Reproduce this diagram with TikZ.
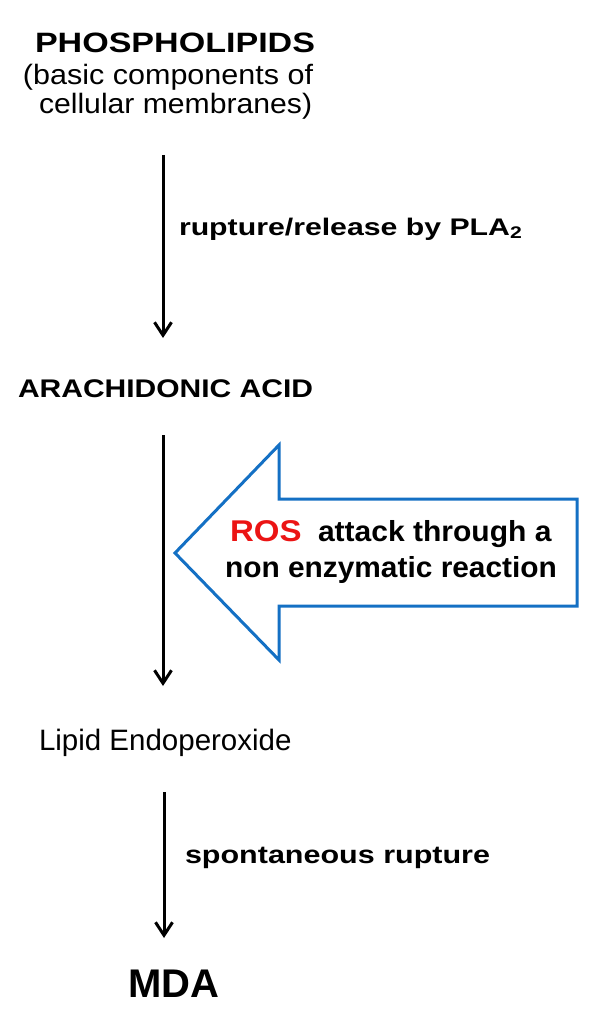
\documentclass[tikz,border=0pt]{standalone}
\usepackage{fontspec}
\setmainfont{Liberation Sans}
\usepackage{graphicx}
\usetikzlibrary{arrows.meta}
\definecolor{rosblue}{RGB}{20,112,196}
\definecolor{rosred}{RGB}{235,20,20}
\newcommand\myfs[1]{\fontsize{#1}{#1}\selectfont}
\begin{document}
\begin{tikzpicture}[x=1pt,y=-1pt,
  lbl/.style={inner sep=0pt, outer sep=0pt, anchor=base west},
  flow/.style={line width=3pt, -{Straight Barb[length=13pt,width=17pt,line width=3pt]}},
  bigarrow/.style={draw=rosblue, line width=3pt, line join=miter, fill=white}]
\useasboundingbox[fill=white] (0,0) rectangle (600,1019);

% texts
\node[lbl] (phos) at (35,53) {\scalebox{1.216}[1]{\myfs{28}\bfseries PHOSPHOLIPIDS}};
\node[lbl] (phosa) at (23,85) {\scalebox{1.09}[1]{\myfs{28}(basic components of}};
\node[lbl] (phosb) at (39,114) {\scalebox{1.077}[1]{\myfs{28}cellular membranes)}};
\node[lbl] (pla) at (179,235) {\scalebox{1.26}[1]{\myfs{24}\bfseries rupture/release by PLA\textsubscript{2}}};
\node[lbl] (ara) at (18,397) {\scalebox{1.177}[1]{\myfs{25.5}\bfseries ARACHIDONIC ACID}};
\node[lbl] (lipid) at (39,750) {\myfs{29.5}Lipid Endoperoxide};
\node[lbl] (spont) at (185,863) {\scalebox{1.22}[1]{\myfs{25}\bfseries spontaneous rupture}};
\node[lbl] (mda) at (128,997) {\myfs{40}\bfseries MDA};

% blue arrow
\draw[bigarrow] (175,553) -- (279,445) -- (279,499) -- (577,499) -- (577,606)
  -- (279,606) -- (279,660) -- cycle;
\node[lbl] (ros) at (230,541) {\scalebox{1.1}[1]{\myfs{30}\bfseries\color{rosred}ROS}};
\node[lbl] (attack) at (318,541) {\scalebox{1.035}[1]{\myfs{29}\bfseries attack through a}};
\node[lbl] (nonenz) at (225,577) {\scalebox{1.03}[1]{\myfs{29}\bfseries non enzymatic reaction}};

% flow arrows
\coordinate (a1s) at (163,155);
\coordinate (a1e) at (163,338);
\coordinate (a2s) at (163,435);
\coordinate (a2e) at (163,686);
\coordinate (a3s) at (164,792);
\coordinate (a3e) at (164,938);
\draw[flow] (a1s) -- (a1e);
\draw[flow] (a2s) -- (a2e);
\draw[flow] (a3s) -- (a3e);
\end{tikzpicture}
\end{document}
